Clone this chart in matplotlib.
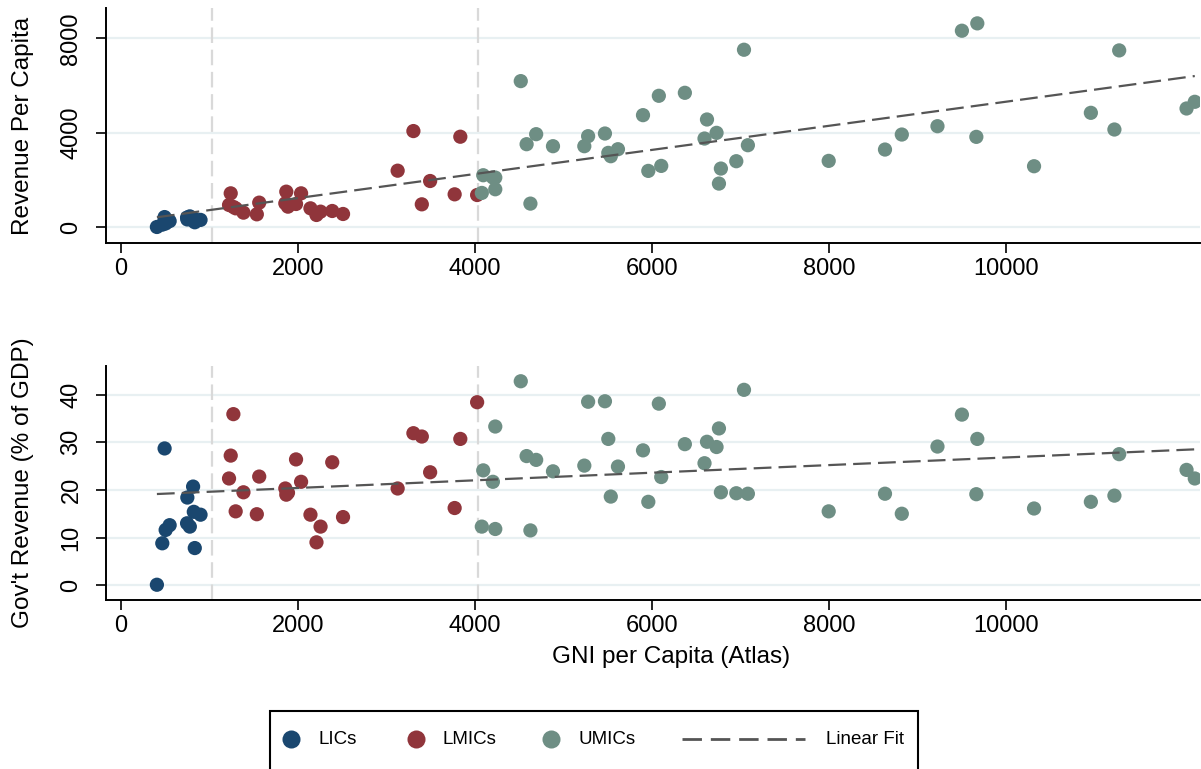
import numpy as np
import matplotlib
matplotlib.use("Agg")
import matplotlib.pyplot as plt
from matplotlib.lines import Line2D
from matplotlib.patches import Rectangle

plt.rcParams['font.family'] = ['Liberation Sans', 'DejaVu Sans']

# ---------------- data ----------------
lic_gni = [405, 466, 492, 504, 549, 746, 749, 777, 814, 822, 833, 898]
lic_rev_pc = [0, 100, 420, 150, 250, 400, 320, 450, 280, 350, 200, 300]
lic_rev_gdp = [0.1, 8.8, 28.7, 11.6, 12.6, 13.0, 18.4, 12.3, 20.7, 15.4, 7.8, 14.8]

lmic_gni = [1220, 1239, 1269, 1295, 1383, 1534, 1561, 1856, 1867, 1886, 1977, 2034,
            2140, 2208, 2254, 2386, 2508, 3125, 3303, 3398, 3492, 3769, 3833, 4023]
lmic_rev_pc = [933, 1427, 850, 791, 608, 537, 1032, 1003, 1498, 862, 975, 1427,
               791, 509, 650, 678, 551, 2388, 4069, 961, 1950, 1385, 3829, 1356]
lmic_rev_gdp = [22.4, 27.2, 35.9, 15.5, 19.5, 14.9, 22.8, 20.3, 19.0, 19.4, 26.4, 21.7,
                14.8, 9.0, 12.3, 25.8, 14.3, 20.3, 31.9, 31.2, 23.7, 16.2, 30.7, 38.4]

umic_gni = [4076, 4092, 4201, 4228, 4228, 4516, 4582, 4625, 4690, 4880, 5234, 5277,
            5467, 5505, 5533, 5614, 5897, 5957, 6076, 6103, 6370, 6592, 6620, 6728,
            6755, 6777, 6951, 7038, 7082, 7995, 8631, 8821, 9224, 9500, 9663, 9674,
            10315, 10957, 11223, 11277, 12038, 12131]
umic_rev_pc = [1444, 2195, 2100, 2096, 1600, 6188, 3512, 991, 3937, 3427, 3427, 3852,
               3965, 3144, 3002, 3299, 4744, 2379, 5565, 2591, 5692, 3752, 4560, 3993,
               1841, 2478, 2790, 7519, 3469, 2804, 3285, 3922, 4276, 8326, 3823, 8638,
               2577, 4843, 4135, 7491, 5027, 5310]
umic_rev_gdp = [12.3, 24.1, 21.7, 33.3, 11.8, 42.8, 27.1, 11.5, 26.3, 23.9, 25.1, 38.5,
                38.6, 30.7, 18.6, 24.9, 28.3, 17.5, 38.1, 22.7, 29.6, 25.6, 30.1, 29.0,
                32.9, 19.5, 19.3, 41.0, 19.2, 15.5, 19.2, 15.0, 29.1, 35.8, 19.1, 30.7,
                16.1, 17.5, 18.8, 27.5, 24.2, 22.4]

thresholds = [1025, 4035]
group_labels = ["LICs", "LMICs", "UMICs"]
fit_label = "Linear Fit"
x_label = "GNI per Capita (Atlas)"
y_labels = ["Revenue Per Capita", "Gov't Revenue (% of GDP)"]
x_ticks = [0, 2000, 4000, 6000, 8000, 10000]
y_ticks = [[0, 4000, 8000], [0, 10, 20, 30, 40]]

# ---------------- style ----------------
colors = ["#1a476f", "#90353b", "#6e8e84"]
W, H = 1201, 769
fig = plt.figure(figsize=(W / 100, H / 100), dpi=100)
fig.patch.set_facecolor("white")

def fx(px):
    return px / W

def fy(py):
    return 1 - py / H

ax_left, ax_right = 106, 1200
panels = [(8, 243), (366, 600)]
ylims = [(-680, 9290), (-3.1, 46.0)]
xlim = (-170, 12190)

groups = [
    (lic_gni, lic_rev_pc, lic_rev_gdp),
    (lmic_gni, lmic_rev_pc, lmic_rev_gdp),
    (umic_gni, umic_rev_pc, umic_rev_gdp),
]

all_gni = np.array(lic_gni + lmic_gni + umic_gni, dtype=float)
all_y = [np.array(lic_rev_pc + lmic_rev_pc + umic_rev_pc, dtype=float),
         np.array(lic_rev_gdp + lmic_rev_gdp + umic_rev_gdp, dtype=float)]

axes = []
for i, (top, bot) in enumerate(panels):
    ax = fig.add_axes([fx(ax_left), fy(bot), (ax_right - ax_left) / W, (bot - top) / H])
    axes.append(ax)
    ax.set_xlim(*xlim)
    ax.set_ylim(*ylims[i])
    for s in ["top", "right"]:
        ax.spines[s].set_visible(False)
    for s in ["left", "bottom"]:
        ax.spines[s].set_linewidth(1.4)
        ax.spines[s].set_color("black")
    ax.set_xticks(x_ticks)
    ax.set_yticks(y_ticks[i])
    ax.tick_params(axis="both", length=7, width=1.2, direction="out", labelsize=17, colors="black")
    ax.tick_params(axis="x", pad=4)
    ax.tick_params(axis="y", pad=10, labelrotation=90)
    for lab in ax.get_yticklabels():
        lab.set_va("center")
    ax.yaxis.grid(True, color="#e8f0f2", lw=1.6, zorder=0)
    ax.set_axisbelow(True)
    # threshold lines
    for t in thresholds:
        ax.axvline(t, color="#d9d9d9", lw=1.6, dashes=(7, 3), zorder=1)
    # scatter
    for g, (gx, gpc, ggdp) in enumerate(groups):
        gy = gpc if i == 0 else ggdp
        ax.scatter(gx, gy, s=105, color=colors[g], edgecolors="none", zorder=3)
    # linear fit
    b, a = np.polyfit(all_gni, all_y[i], 1)
    xs = np.array([all_gni.min(), all_gni.max()])
    ax.plot(xs, a + b * xs, color="#555555", lw=1.6, dashes=(8, 3.2), zorder=4)
    ax.set_ylabel(y_labels[i], fontsize=17.5)
    ax.yaxis.set_label_coords((34 - ax_left) / (ax_right - ax_left), 0.5)

axes[1].set_xlabel(x_label, fontsize=17.5)
axes[1].xaxis.set_label_coords((671 - ax_left) / (ax_right - ax_left), (600 - 646) / (600 - 366))

# ---------------- legend ----------------
fig.add_artist(Rectangle((fx(270), fy(790)), (918 - 270) / W, (790 - 711) / H,
                         transform=fig.transFigure, fill=False, edgecolor="black",
                         lw=1.5, clip_on=False))
ly = fy(739)
marker_x = [291, 416, 551]
text_x = [318, 443, 579]
for g in range(3):
    fig.add_artist(Line2D([fx(marker_x[g])], [ly], marker="o", markersize=13,
                          color=colors[g], markeredgewidth=0, linestyle="none",
                          transform=fig.transFigure))
    fig.text(fx(text_x[g]), ly, group_labels[g], fontsize=13.5, va="center", ha="left")
fig.add_artist(Line2D([fx(682), fx(805)], [ly, ly], color="#555555", lw=2.0,
                      dashes=(7, 3.2), transform=fig.transFigure))
fig.text(fx(826), ly, fit_label, fontsize=13.5, va="center", ha="left")

fig.savefig("out.png", dpi=100)
